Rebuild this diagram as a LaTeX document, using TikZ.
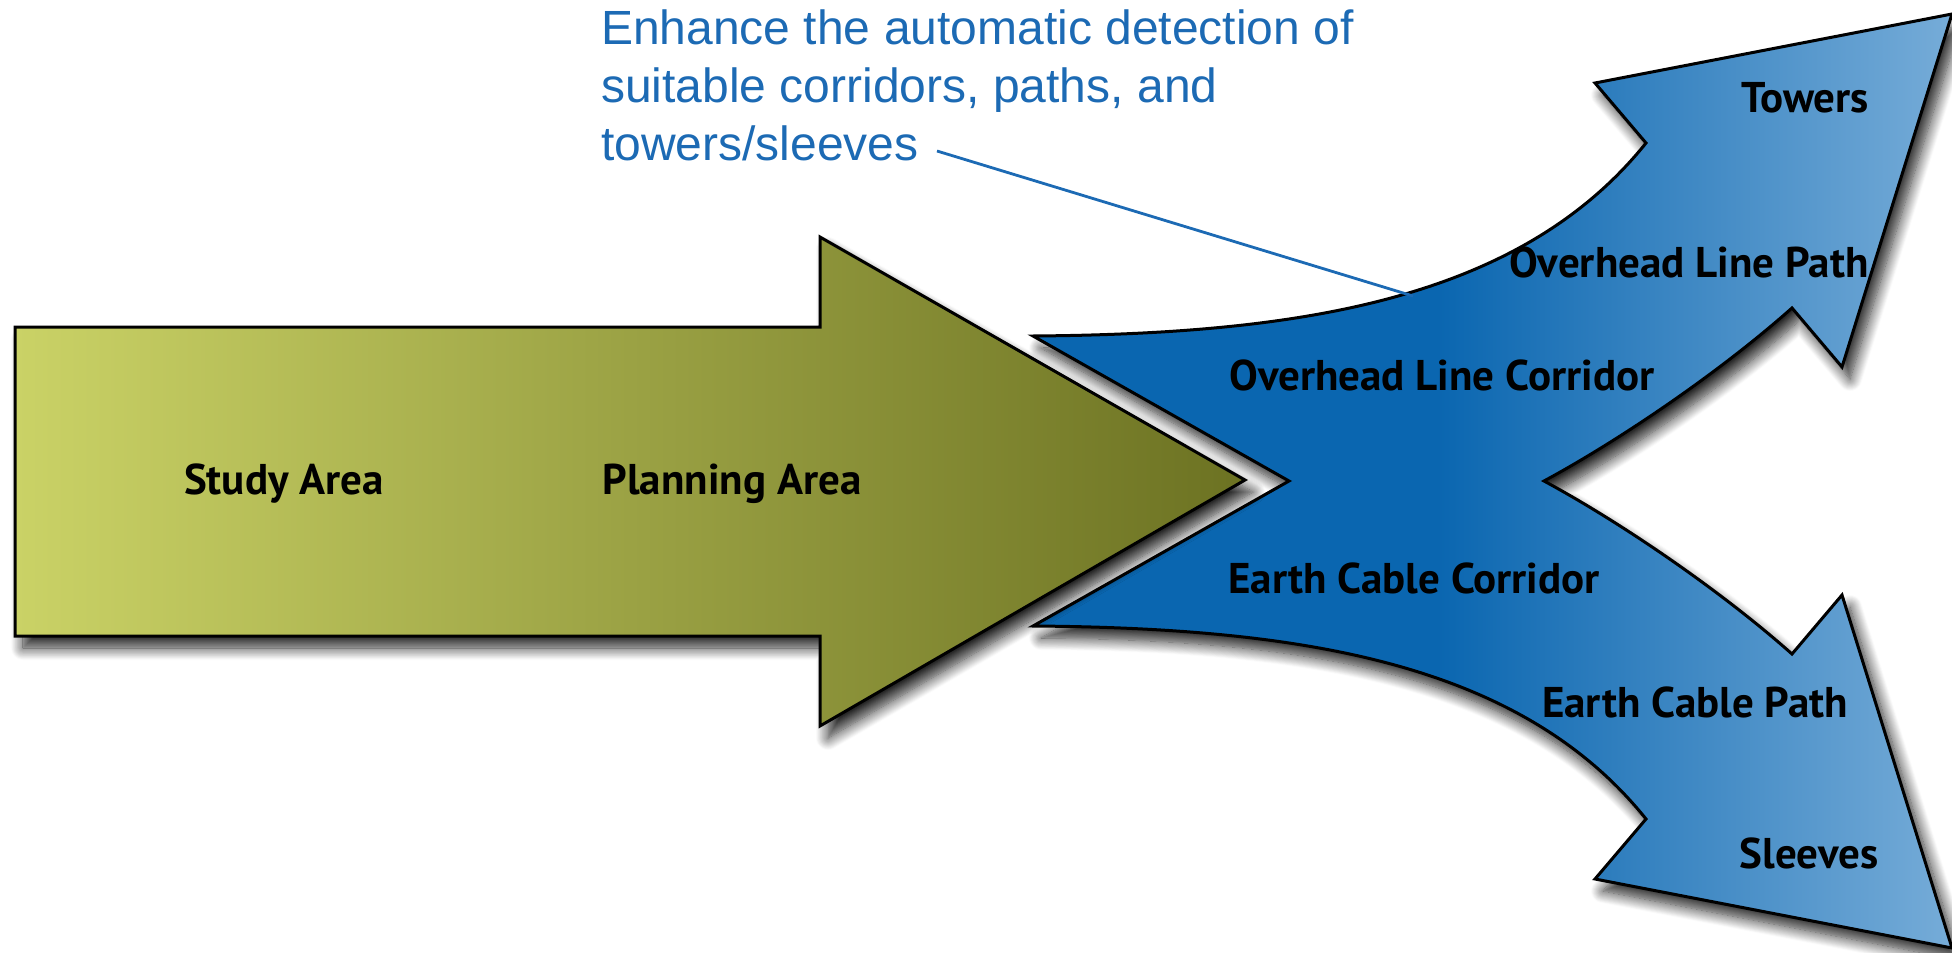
\documentclass[tikz,border=0pt]{standalone}
\usepackage{fontspec}
\setmainfont{Liberation Sans}
\newfontfamily\labelfont{PT Sans}
\usetikzlibrary{shadows.blur}

\definecolor{bdark}{RGB}{10,102,176}
\definecolor{blight}{RGB}{118,172,216}
\definecolor{gleft}{RGB}{202,210,102}
\definecolor{gright}{RGB}{108,114,34}
\definecolor{calloutblue}{RGB}{28,106,180}

\pgfdeclarehorizontalshading{blueflow}{100bp}{color(0bp)=(bdark); color(47bp)=(bdark); color(75bp)=(blight); color(100bp)=(blight)}

\tikzset{
  flow/.style={draw=black, line width=3pt, line join=miter,
    blur shadow={shadow xshift=8pt, shadow yshift=-12pt, shadow blur radius=12pt, shadow blur steps=14, shadow opacity=85}},
  lbl/.style={font=\labelfont\bfseries\fontsize{43}{47}\selectfont, text=black, inner sep=0pt, anchor=base},
  note/.style={font=\fontsize{48}{58}\selectfont, text=calloutblue, inner sep=0pt, align=left, anchor=base west},
}

\begin{document}
\begin{tikzpicture}[x=1pt, y=-1pt]
\useasboundingbox (0,0) rectangle (1952,953);

% branching corridor shape
\path[flow, shading=blueflow]
  (1033,336) .. controls (1300,334) and (1520,300) .. (1646,143)
  -- (1595,83) -- (1952,14) -- (1842,367) -- (1792,308)
  .. controls (1720,372) and (1620,440) .. (1544,481)
  .. controls (1620,522) and (1720,590) .. (1792,654)
  -- (1842,595) -- (1952,948) -- (1595,879) -- (1646,819)
  .. controls (1520,662) and (1300,628) .. (1033,626)
  -- (1289,481) -- cycle;

% study / planning arrow
\path[flow, left color=gleft, right color=gright]
  (15,327) -- (820,327) -- (820,237) -- (1245,480) -- (820,726)
  -- (820,636) -- (15,636) -- cycle;

\node[lbl] (study) at (284,494) {Study Area};
\node[lbl] (planning) at (732,494) {Planning Area};
\node[lbl] (ohcorr) at (1442,390) {Overhead Line Corridor};
\node[lbl] (eccorr) at (1414,593) {Earth Cable Corridor};
\node[lbl] (towers) at (1805,112) {Towers};
\node[lbl] (ohpath) at (1689,277) {Overhead Line Path};
\node[lbl] (ecpath) at (1695,717) {Earth Cable Path};
\node[lbl] (sleeves) at (1809,868) {Sleeves};

% callout: the last line's baseline sits at y = 160
\node[note] (note) at (601,160) {Enhance the automatic detection of\\suitable corridors, paths, and\\towers/sleeves};
\coordinate (notestart) at (937,151);
\coordinate (noteend) at (1413,296);
\draw[calloutblue, line width=2.8pt] (notestart) -- (noteend);
\end{tikzpicture}
\end{document}
